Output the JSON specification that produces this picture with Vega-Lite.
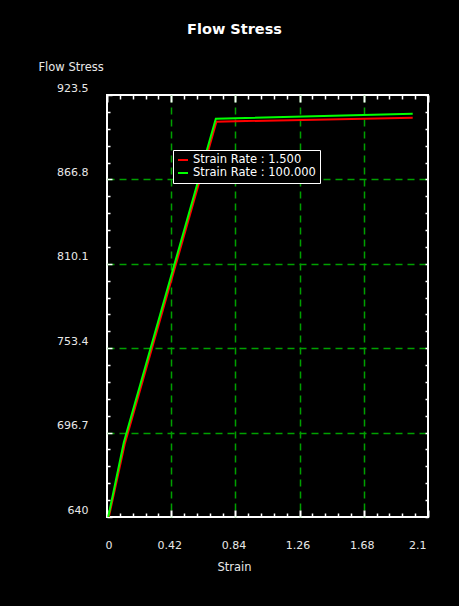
{
  "$schema": "https://vega.github.io/schema/vega-lite/v6.json",
  "width": 321,
  "height": 422,
  "autosize": {"type": "none"},
  "padding": {"left": 107, "top": 95, "right": 31, "bottom": 89},
  "background": "#000000",
  "title": {"text": "Flow Stress", "anchor": "middle", "dx": -33, "offset": 24, "fontSize": 14.5, "fontWeight": "bold", "font": "DejaVu Sans", "color": "#ffffff"},
  "config": {
    "view": {"stroke": "#ffffff", "strokeWidth": 2, "fill": "#000000"},
    "axis": {"labelFont": "DejaVu Sans", "titleFont": "DejaVu Sans", "labelColor": "#e8e8e8", "titleColor": "#e8e8e8", "labelFontSize": 11, "titleFontSize": 11.5, "titleFontWeight": "normal", "domain": false, "tickColor": "#ffffff", "gridColor": "#00a000", "gridDash": [7, 5], "gridWidth": 1.5, "labelOverlap": false}
  },
  "data": {"values": [
    {"strain": 0.012, "stress": 640, "series": "Strain Rate : 1.500"},
    {"strain": 0.116, "stress": 689, "series": "Strain Rate : 1.500"},
    {"strain": 0.716, "stress": 905.6, "series": "Strain Rate : 1.500"},
    {"strain": 2.0, "stress": 908.3, "series": "Strain Rate : 1.500"},
    {"strain": 0.008, "stress": 640, "series": "Strain Rate : 100.000"},
    {"strain": 0.11, "stress": 690, "series": "Strain Rate : 100.000"},
    {"strain": 0.712, "stress": 907.6, "series": "Strain Rate : 100.000"},
    {"strain": 2.0, "stress": 910.9, "series": "Strain Rate : 100.000"}
  ]},
  "layer": [
    {
      "mark": {"type": "line", "strokeWidth": 2, "clip": true},
      "encoding": {
        "x": {"field": "strain", "type": "quantitative", "scale": {"domain": [0, 2.1], "nice": false, "zero": false},
          "axis": {"orient": "bottom", "title": "Strain", "titleX": 127, "titleY": 53, "titleAlign": "center", "titleBaseline": "alphabetic",
            "values": [0,0.084,0.168,0.252,0.336,0.42,0.504,0.588,0.672,0.756,0.84,0.924,1.008,1.092,1.176,1.26,1.344,1.428,1.512,1.596,1.68,1.764,1.848,1.932,2.016,2.1],
            "labelExpr": "indexof([0,0.42,0.84,1.26,1.68,2.1], datum.value) >= 0 ? toString(datum.value) : ''",
            "labelPadding": 35, "labelOffset": -2, "labelBaseline": "middle",
            "tickSize": {"condition": {"test": "indexof([0,0.42,0.84,1.26,1.68,2.1], datum.value) >= 0", "value": -7}, "value": -4},
            "tickWidth": {"condition": {"test": "indexof([0,0.42,0.84,1.26,1.68,2.1], datum.value) >= 0", "value": 2}, "value": 1.5},
            "gridOpacity": {"condition": {"test": "indexof([0.42,0.84,1.26,1.68], datum.value) >= 0", "value": 1}, "value": 0}
          }},
        "y": {"field": "stress", "type": "quantitative", "scale": {"domain": [640, 923.5], "nice": false, "zero": false},
          "axis": {"orient": "left", "title": "Flow Stress", "titleAngle": 0, "titleX": -69, "titleY": -25, "titleAlign": "left", "titleBaseline": "alphabetic",
            "values": [640,651.34,662.68,674.02,685.36,696.7,708.04,719.38,730.72,742.06,753.4,764.74,776.08,787.42,798.76,810.1,821.44,832.78,844.12,855.46,866.8,878.14,889.48,900.82,912.16,923.5],
            "labelExpr": "indexof([640,696.7,753.4,810.1,866.8,923.5], datum.value) >= 0 ? toString(datum.value) : ''",
            "labelPadding": 24, "labelOffset": -7, "labelBaseline": "middle", "labelAlign": "right",
            "tickSize": {"condition": {"test": "indexof([640,696.7,753.4,810.1,866.8,923.5], datum.value) >= 0", "value": -5}, "value": -3},
            "tickWidth": 1.5,
            "gridOpacity": {"condition": {"test": "indexof([696.7,753.4,810.1,866.8], datum.value) >= 0", "value": 1}, "value": 0}
          }},
        "color": {"field": "series", "type": "nominal", "scale": {"domain": ["Strain Rate : 1.500", "Strain Rate : 100.000"], "range": ["#ff0000", "#00ff00"]},
          "legend": {"orient": "none", "legendX": 66, "legendY": 55, "title": null, "strokeColor": "#ffffff", "fillColor": "#000000", "padding": 4,
            "labelFont": "DejaVu Sans", "labelFontSize": 11.5, "labelColor": "#ffffff", "symbolType": "stroke", "symbolStrokeWidth": 2, "symbolSize": 100, "rowPadding": 1, "labelOffset": 4}}
      }
    },
    {
      "mark": {"type": "line", "opacity": 0},
      "encoding": {
        "x": {"field": "strain", "type": "quantitative",
          "axis": {"orient": "top", "title": null, "grid": false, "labels": false,
            "values": [0,0.084,0.168,0.252,0.336,0.42,0.504,0.588,0.672,0.756,0.84,0.924,1.008,1.092,1.176,1.26,1.344,1.428,1.512,1.596,1.68,1.764,1.848,1.932,2.016,2.1],
            "tickSize": {"condition": {"test": "indexof([0,0.42,0.84,1.26,1.68,2.1], datum.value) >= 0", "value": -7}, "value": -4},
            "tickWidth": {"condition": {"test": "indexof([0,0.42,0.84,1.26,1.68,2.1], datum.value) >= 0", "value": 2}, "value": 1.5}
          }},
        "y": {"field": "stress", "type": "quantitative",
          "axis": {"orient": "right", "title": null, "grid": false, "labels": false,
            "values": [640,651.34,662.68,674.02,685.36,696.7,708.04,719.38,730.72,742.06,753.4,764.74,776.08,787.42,798.76,810.1,821.44,832.78,844.12,855.46,866.8,878.14,889.48,900.82,912.16,923.5],
            "tickSize": -3, "tickWidth": 1.5
          }}
      }
    }
  ],
  "resolve": {"axis": {"x": "independent", "y": "independent"}}
}
